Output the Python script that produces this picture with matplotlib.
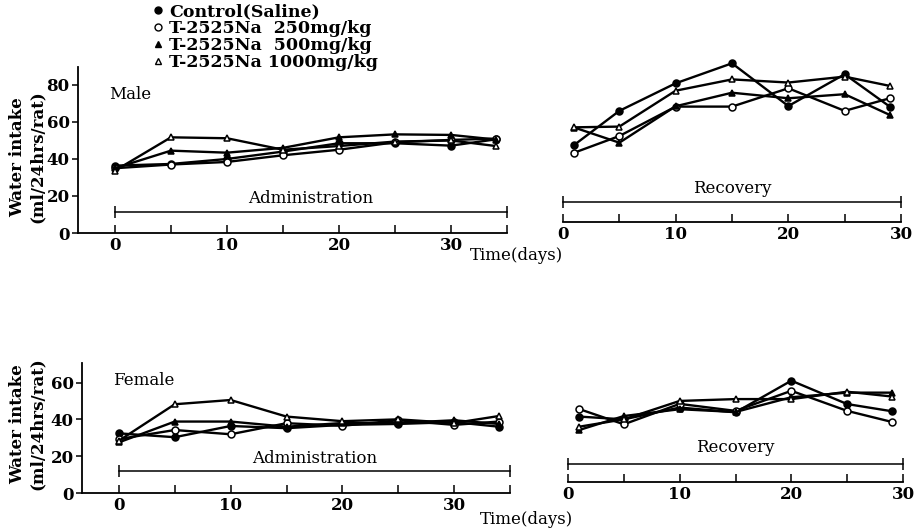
import numpy as np
import matplotlib
matplotlib.use('Agg')
import matplotlib.pyplot as plt
from matplotlib.lines import Line2D

plt.rcParams['font.family'] = 'DejaVu Serif'
plt.rcParams['font.weight'] = 'bold'

# days of measurement
admin_days = [0, 5, 10, 15, 20, 25, 30, 34]
recovery_days = [1, 5, 10, 15, 20, 25, 29]

groups = ['Control(Saline)', 'T-2525Na  250mg/kg', 'T-2525Na  500mg/kg', 'T-2525Na 1000mg/kg']

# male, administration period
male_admin_ctrl = [36.4, 37.3, 40.0, 44.0, 48.5, 48.5, 47.2, 50.6]
male_admin_250 = [35.0, 37.0, 38.4, 42.0, 45.0, 49.0, 50.3, 51.0]
male_admin_500 = [35.0, 44.5, 43.4, 46.0, 51.7, 53.3, 53.0, 50.5]
male_admin_1000 = [33.7, 51.7, 51.2, 45.0, 47.0, 49.4, 50.0, 47.0]

# male, recovery period
male_rec_ctrl = [47.6, 66.0, 80.9, 91.7, 68.6, 85.8, 68.3]
male_rec_250 = [43.4, 52.4, 68.3, 68.3, 78.2, 66.0, 72.8]
male_rec_500 = [57.0, 48.8, 68.5, 75.8, 72.8, 75.0, 63.8]
male_rec_1000 = [57.1, 57.5, 76.9, 83.0, 81.3, 84.5, 79.5]

# female, administration period
female_admin_ctrl = [32.4, 30.3, 36.4, 35.2, 37.0, 37.5, 38.5, 36.0]
female_admin_250 = [29.3, 34.2, 31.9, 37.9, 36.5, 39.5, 37.0, 38.8]
female_admin_500 = [27.5, 38.8, 38.8, 36.0, 38.0, 38.0, 39.5, 37.5]
female_admin_1000 = [28.4, 48.2, 50.5, 41.5, 39.0, 40.0, 38.0, 41.8]

# female, recovery period
female_rec_ctrl = [41.5, 40.0, 46.4, 43.8, 61.0, 48.3, 44.4]
female_rec_250 = [45.6, 37.3, 48.4, 44.6, 55.5, 44.6, 38.6]
female_rec_500 = [34.2, 41.8, 45.5, 44.0, 52.0, 54.5, 54.5]
female_rec_1000 = [36.0, 40.0, 50.0, 51.0, 51.0, 55.0, 52.4]

styles = [dict(marker='o', mfc='black'),
          dict(marker='o', mfc='white'),
          dict(marker='^', mfc='black'),
          dict(marker='^', mfc='white')]

W, H = 918, 531
fig = plt.figure(figsize=(W / 100, H / 100), dpi=100)


def px_axes(left, right, top, bottom):
    return fig.add_axes([left / W, (H - bottom) / H, (right - left) / W, (bottom - top) / H])


def draw_series(ax, days, series):
    for vals, st in zip(series, styles):
        ax.plot(days, vals, color='black', lw=1.7, mec='black', mew=1.1,
                ms=5, clip_on=False, **st)


def admin_panel(ax, days, series, ymax, yticks, label, bar_y, text_y, label_y):
    draw_series(ax, days, series)
    ax.set_xlim(-3.3, 35)
    ax.set_ylim(0, ymax)
    for s in ['top', 'right']:
        ax.spines[s].set_visible(False)
    for s in ['left', 'bottom']:
        ax.spines[s].set_linewidth(1.3)
    ax.set_xticks(range(0, 36, 5))
    ax.set_xticklabels(['0', '', '10', '', '20', '', '30', ''])
    ax.set_yticks(yticks)
    ax.tick_params(axis='x', direction='in', length=6, width=1.1, labelsize=12, pad=3)
    ax.tick_params(axis='y', direction='out', length=4, width=1.1, labelsize=12, pad=2)
    ax.plot([0, 35], [bar_y, bar_y], color='black', lw=1.1, marker='|', ms=8,
            mew=1.1, clip_on=False)
    ax.text(17.5, text_y, 'Administration', ha='center', va='center', fontsize=12,
            fontweight='normal')
    ax.text(-0.5, label_y, label, ha='left', va='center', fontsize=12, fontweight='normal')


def recovery_panel(ax, days, series, ymax, spine_frac, bar_y, text_y):
    draw_series(ax, days, series)
    ax.set_xlim(0, 30)
    ax.set_ylim(0, ymax)
    for s in ['top', 'right', 'left']:
        ax.spines[s].set_visible(False)
    ax.spines['bottom'].set_position(('axes', spine_frac))
    ax.spines['bottom'].set_linewidth(1.3)
    ax.set_yticks([])
    ax.set_xticks(range(0, 31, 5))
    ax.set_xticklabels(['0', '', '10', '', '20', '', '30'])
    ax.tick_params(axis='x', direction='in', length=6, width=1.1, labelsize=12, pad=3)
    ax.plot([0, 30], [bar_y, bar_y], color='black', lw=1.1, marker='|', ms=8,
            mew=1.1, clip_on=False)
    ax.text(15, text_y, 'Recovery', ha='center', va='center', fontsize=12,
            fontweight='normal')


ax1 = px_axes(78, 507, 67, 233)
admin_panel(ax1, admin_days,
            [male_admin_ctrl, male_admin_250, male_admin_500, male_admin_1000],
            89.7, [0, 20, 40, 60, 80], 'Male', 11.5, 18.5, 75)

ax2 = px_axes(563, 901, 67, 233)
recovery_panel(ax2, recovery_days,
               [male_rec_ctrl, male_rec_250, male_rec_500, male_rec_1000],
               89.7, 0.066, 17, 24)

ax3 = px_axes(82, 510, 363, 493)
admin_panel(ax3, admin_days,
            [female_admin_ctrl, female_admin_250, female_admin_500, female_admin_1000],
            70.6, [0, 20, 40, 60], 'Female', 12, 19, 61)

ax4 = px_axes(568, 903, 363, 493)
recovery_panel(ax4, recovery_days,
               [female_rec_ctrl, female_rec_250, female_rec_500, female_rec_1000],
               70.6, 0.085, 16, 24.5)

# y labels and time labels
for yc in [157, 424]:
    fig.text(27 / W, 1 - yc / H, 'Water intake\n(ml/24hrs/rat)', rotation=90,
             ha='center', va='center', fontsize=12, linespacing=1.2)
fig.text(517 / W, 1 - 256 / H, 'Time(days)', ha='center', va='center', fontsize=12,
         fontweight='normal')
fig.text(527 / W, 1 - 520 / H, 'Time(days)', ha='center', va='center', fontsize=12,
         fontweight='normal')

# legend
handles = [Line2D([], [], color='black', linestyle='none', ms=5, mec='black', **st)
           for st in styles]
fig.legend(handles, groups, loc='upper left', bbox_to_anchor=(153 / W, 1 - 3 / H),
           frameon=False, fontsize=12.5, handlelength=0.6, handletextpad=0.35,
           labelspacing=0.0, borderpad=0, borderaxespad=0)

fig.savefig('out.png', dpi=100)
